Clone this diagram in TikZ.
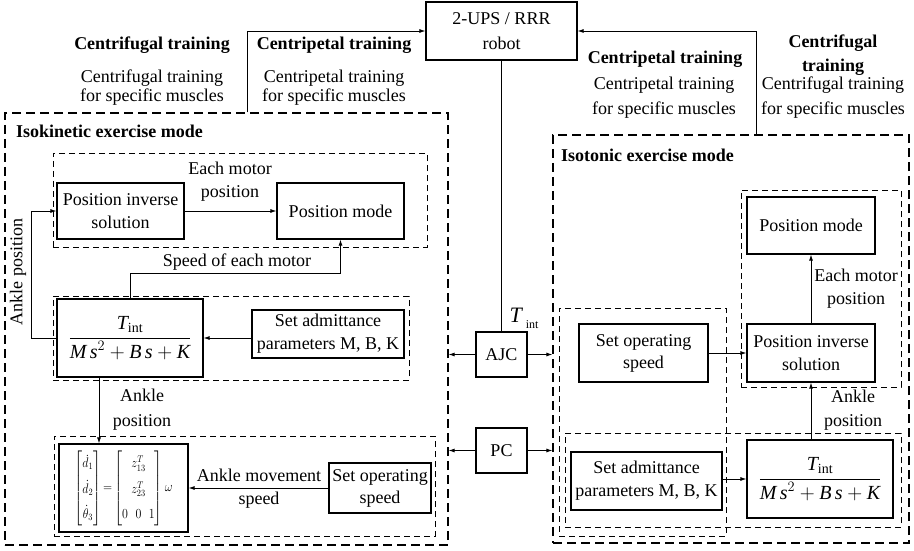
\documentclass[tikz,border=0pt]{standalone}
\usepackage{amsmath}
\usepackage{fontspec}
\setmainfont{Liberation Serif}
\usetikzlibrary{arrows.meta}
\newcommand{\myit}[1]{\text{\itshape #1}}
\newcommand{\fsz}[1]{\fontsize{18}{#1}\selectfont}
\newcommand{\admform}{$\dfrac{\myit{T}_{\text{int}}}{\myit{M\,s}^{2}+\myit{B\,s}+\myit{K}}$}
\begin{document}
\begin{tikzpicture}[x=1pt,y=-1pt,
  blk/.style={draw, line width=1.1pt, inner sep=0pt, align=center, font=\fsz{23}},
  grp/.style={draw, dash pattern=on 6pt off 4pt, line width=0.9pt, inner sep=0pt},
  outer/.style={draw, dash pattern=on 9pt off 5pt, line width=1.1pt, inner sep=0pt},
  arr/.style={-{Latex[length=6pt,width=4pt]}, line width=0.9pt},
  ln/.style={line width=0.9pt},
  lbl/.style={align=center, inner sep=0pt, font=\fsz{23}},
  hd/.style={align=center, inner sep=0pt, font=\bfseries\fsz{24}},
]
\useasboundingbox (0,0) rectangle (914,551);

% group boxes
\node[outer, minimum width=443pt, minimum height=432pt] (kin) at (226.5,329) {};
\node[outer, minimum width=356pt, minimum height=408pt] (ton) at (731,339) {};
\node[grp, minimum width=374pt, minimum height=94pt] (g1) at (240,200) {};
\node[grp, minimum width=356pt, minimum height=84pt] (g2) at (231,338) {};
\node[grp, minimum width=381pt, minimum height=100pt] (g3) at (244.5,486) {};
\node[grp, minimum width=160pt, minimum height=197pt] (g4) at (821,288.5) {};
\node[grp, minimum width=167pt, minimum height=228pt] (g5) at (642.5,422) {};
\node[grp, minimum width=336pt, minimum height=94pt] (g6) at (733,480) {};

% headings
\node[hd] (h1) at (152,45) {Centrifugal training};
\node[lbl, font=\fsz{19}] (t1) at (152,87.5) {Centrifugal training\\for specific muscles};
\node[hd] (h2) at (334,45) {Centripetal training};
\node[lbl, font=\fsz{19}] (t2) at (334,87.5) {Centripetal training\\for specific muscles};
\node[hd] (h3) at (665,59) {Centripetal training};
\node[lbl, font=\fsz{25}] (t3) at (664,97.5) {Centripetal training\\for specific muscles};
\node[hd] (h4) at (833,55) {Centrifugal\\training};
\node[lbl, font=\fsz{25}] (t4) at (833,97.5) {Centrifugal training\\for specific muscles};

\node[anchor=west, inner sep=0pt, font=\bfseries\fsz{20}] (kint) at (16,131) {Isokinetic exercise mode};
\node[anchor=west, inner sep=0pt, font=\bfseries\fsz{20}] (tont) at (561,155) {Isotonic exercise mode};

% blocks
\node[blk, font=\fsz{25}, minimum width=151pt, minimum height=58pt] (robot) at (501.5,31) {2-UPS / RRR\\robot};
\node[blk, minimum width=51pt, minimum height=45pt] (ajc) at (501.5,354.5) {AJC};
\node[blk, minimum width=51pt, minimum height=45pt] (pc) at (501.5,450.5) {PC};

\node[blk, minimum width=127pt, minimum height=56pt] (pisl) at (120.5,211) {Position inverse\\solution};
\node[blk, minimum width=127pt, minimum height=56pt] (pml) at (340.5,211) {Position mode};
\node[blk, font=\fontsize{20}{24}\selectfont, minimum width=146pt, minimum height=78pt] (fl) at (130,338) {\admform};
\node[blk, minimum width=152pt, minimum height=48pt] (sal) at (328,334) {Set admittance\\parameters M, B, K};
\node[blk, minimum width=129pt, minimum height=88pt] (mat) at (123.5,488) {\resizebox*{98pt}{76pt}{\fontsize{14.4}{17}\selectfont
  $\setlength{\arraycolsep}{4.5pt}\renewcommand{\arraystretch}{1.55}\begin{bmatrix}\dot{d}_1\\ \dot{d}_2\\ \dot{\theta}_3\end{bmatrix}{=}\begin{bmatrix}\multicolumn{3}{c}{z_{13}^{T}}\\ \multicolumn{3}{c}{z_{23}^{T}}\\ 0&0&1\end{bmatrix}\omega$}};
\node[blk, font=\fsz{22}, minimum width=102pt, minimum height=50pt] (sosl) at (380,488) {Set operating\\speed};

\node[blk, minimum width=128pt, minimum height=57pt] (pmr) at (811,225.5) {Position mode};
\node[blk, minimum width=128pt, minimum height=58pt] (pisr) at (811,353) {Position inverse\\solution};
\node[blk, font=\fsz{22}, minimum width=129pt, minimum height=58pt] (sosr) at (643.5,353) {Set operating\\speed};
\node[blk, minimum width=151pt, minimum height=58pt] (sar) at (646.5,481) {Set admittance\\parameters M, B, K};
\node[blk, font=\fontsize{20}{24}\selectfont, minimum width=146pt, minimum height=78pt] (fr) at (820,479) {\admform};

% labels
\node[lbl] (l1) at (230,181.5) {Each motor\\position};
\node[lbl] (l2) at (237,262) {Speed of each motor};
\node[lbl, rotate=90] (l3) at (18,272) {Ankle position};
\node[lbl, font=\fsz{25}] (l4) at (142,409.5) {Ankle\\position};
\node[lbl] (l5) at (259,488.5) {Ankle movement\\speed};
\node[lbl] (l6) at (856,288.5) {Each motor\\position};
\node[lbl, font=\fsz{24}] (l7) at (853,410) {Ankle\\position};
\node[inner sep=0pt] (tint) at (524,318) {{\fontsize{22}{22}\selectfont\itshape T}\hspace{4pt}\raisebox{-6pt}{\fontsize{12}{12}\selectfont int}};

% connectors
\coordinate (cl) at (247,31);
\coordinate (cr) at (756,31);
\coordinate (ca) at (31,0);
\coordinate (ax) at (99,0);
\draw[arr] (kin.north -| cl) |- (robot.west);
\draw[arr] (ton.north -| cr) |- (robot.east);
\draw[ln] (robot.south) -- (ajc.north);
\draw[arr] (ajc.west) -- (kin.east |- ajc.west);
\draw[arr] (ajc.east) -- (ton.west |- ajc.east);
\draw[arr] (pc.west) -- (kin.east |- pc.west);
\draw[arr] (pc.east) -- (ton.west |- pc.east);

\draw[arr] (pisl.east) -- (pml.west);
\draw[arr] (fl.north) -- ++(0,-25) -| (pml.south);
\draw[arr] (sal.west |- fl.east) -- (fl.east);
\draw[arr] (fl.west) -- (fl.west -| ca) |- (pisl.west);
\draw[arr] (fl.south -| ax) -- (mat.north -| ax);
\draw[arr] (sosl.west) -- (mat.east);

\draw[arr] (pisr.north) -- (pmr.south);
\draw[arr] (sosr.east) -- (pisr.west);
\draw[arr] (sar.east |- fr.west) -- (fr.west);
\draw[arr] (fr.north -| pisr.south) -- (pisr.south);
\end{tikzpicture}
\end{document}
